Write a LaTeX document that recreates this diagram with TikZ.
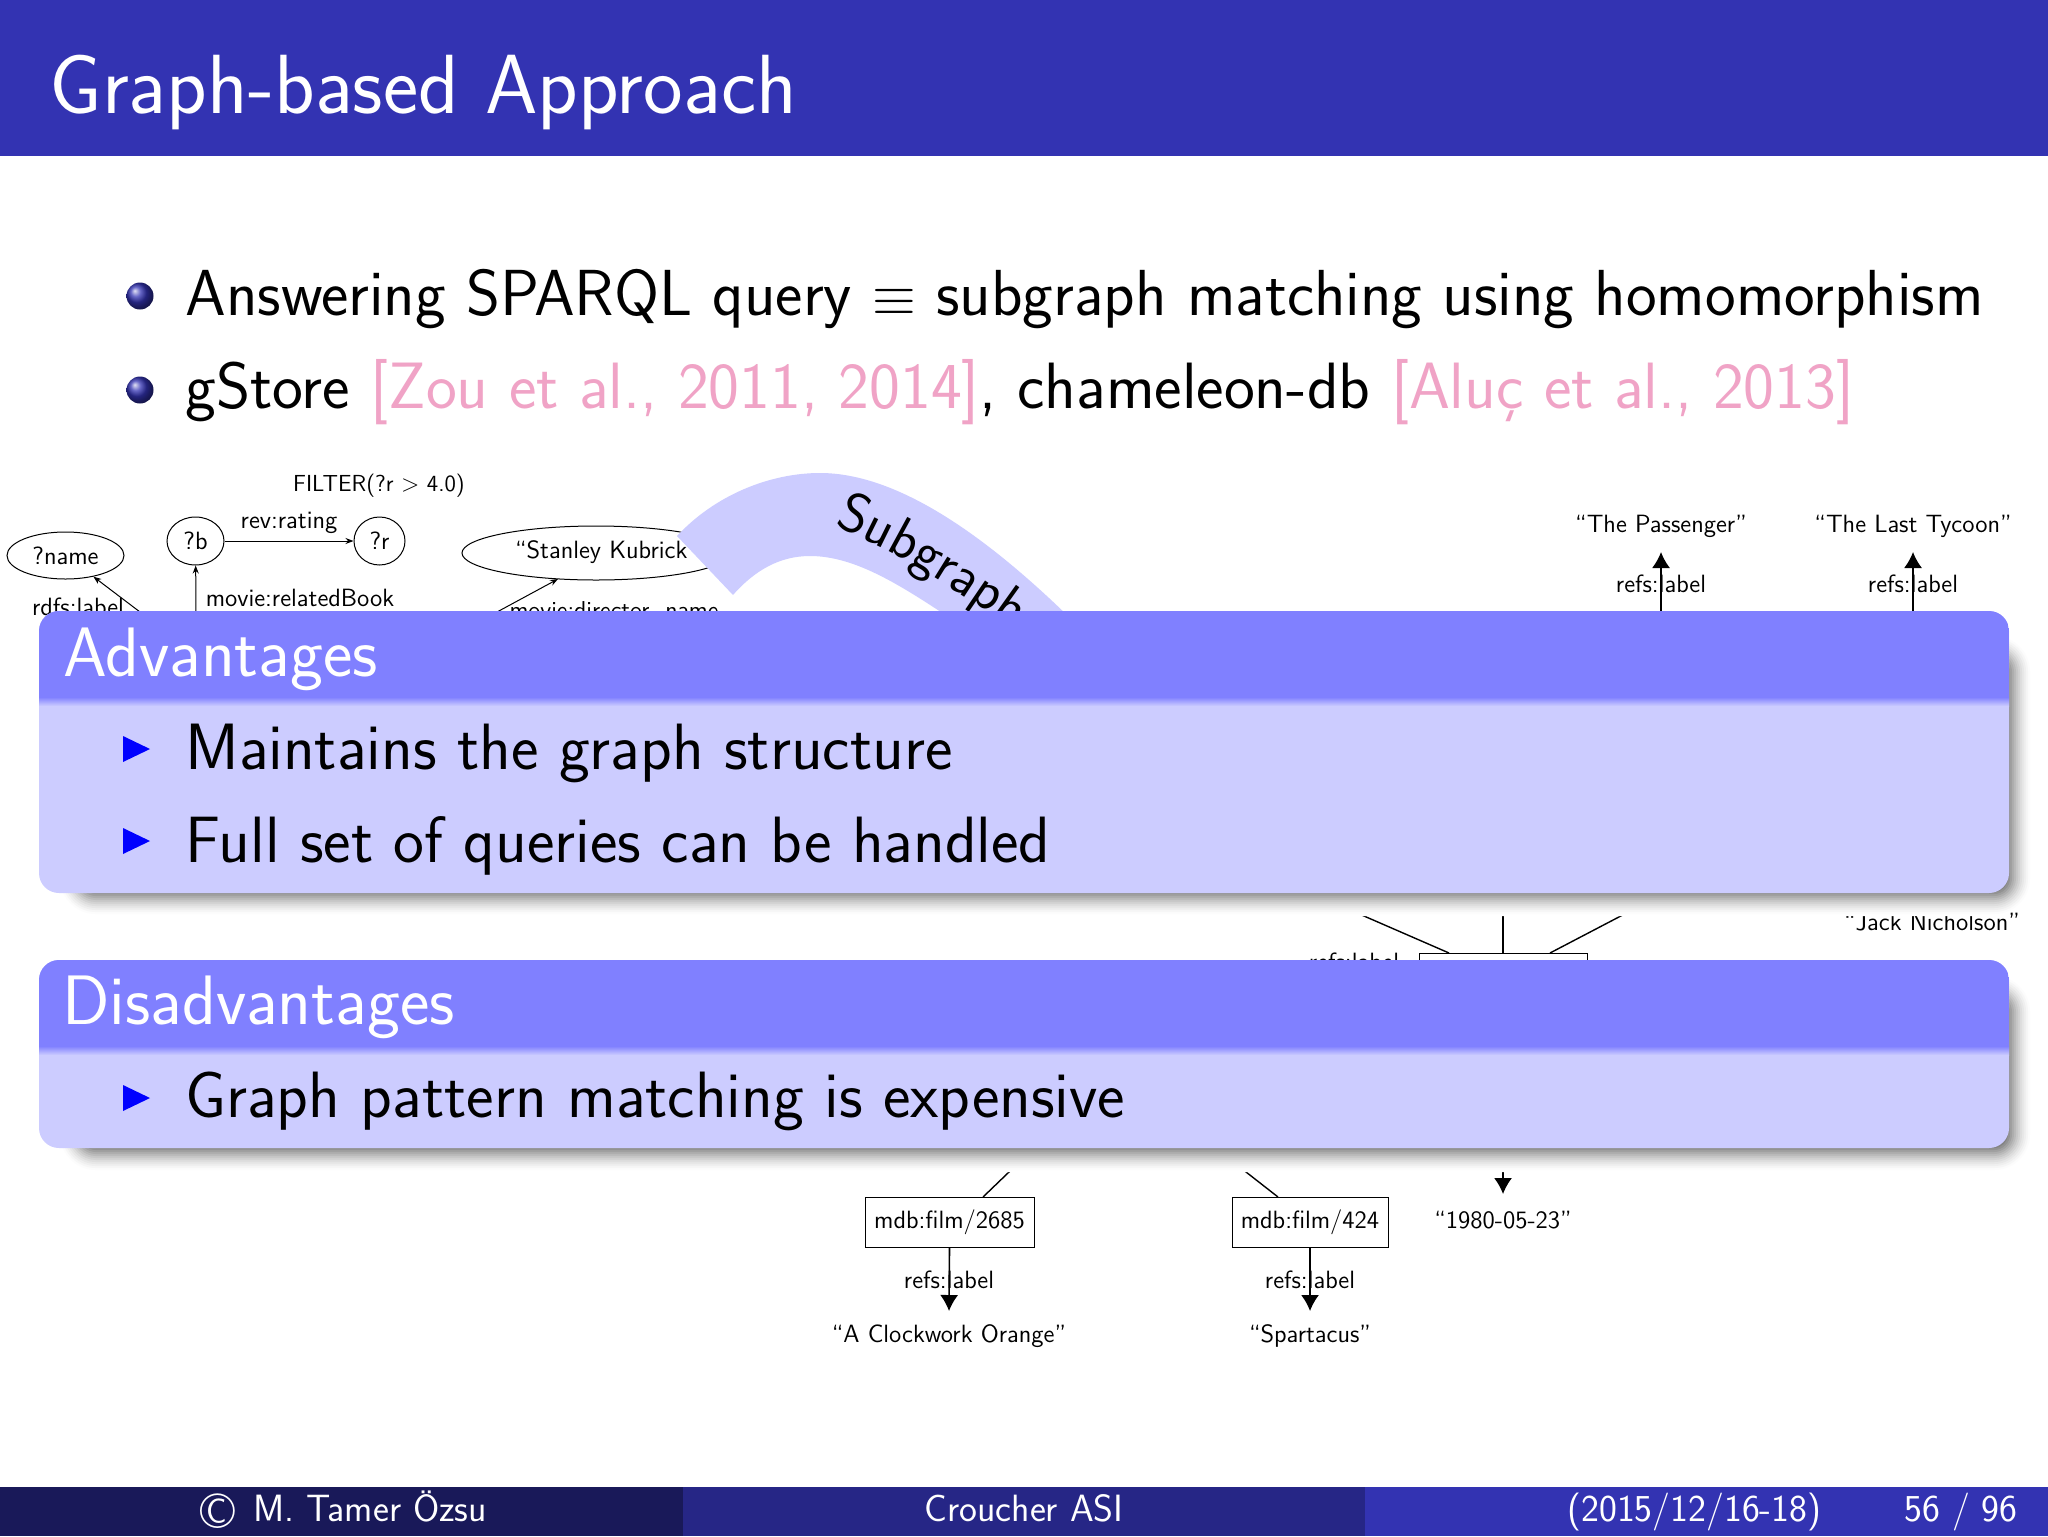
\documentclass[tikz,border=0pt]{standalone}
\usetikzlibrary{arrows.meta,shapes.geometric,decorations.text}
\definecolor{bartitle}{rgb}{0.2,0.2,0.7}
\definecolor{barmid}{rgb}{0.15,0.15,0.525}
\definecolor{bardark}{rgb}{0.1,0.1,0.35}
\definecolor{blockhead}{HTML}{8080FF}
\definecolor{blockbody}{HTML}{CCCCFF}
\definecolor{citepink}{HTML}{F0A3C6}
\newcommand{\szset}[1]{\fontsize{#1}{#1}\selectfont\sffamily}
\newcommand{\shadowbox}[4]{%
  \foreach \i in {13,...,0}{%
    \pgfmathsetmacro{\sv}{100-55*(1-\i/13)^1.5}%
    \fill[color=white!\sv!black,rounded corners={(12+\i*2)*0.5pt}]
      ({#1-\i*2},{#2-\i*2}) rectangle ({#3+\i*2},{#4+\i*2});
  }%
}
\tikzset{
  px/.style={x=0.5pt,y=-0.5pt},
  lab/.style={font=\szset{12.5},anchor=base,inner sep=0pt,text=black},
  body/.style={font=\szset{32.75},anchor=base west,inner sep=0pt,text=black},
  headtxt/.style={font=\szset{35},anchor=base west,inner sep=0pt,text=white},
  foot/.style={font=\szset{19},anchor=base,inner sep=0pt,text=white},
  thinarrow/.style={draw=black,line width=0.5pt,-{Stealth[length=4pt,width=3pt]}},
  bigarrow/.style={draw=black,line width=0.8pt,-{Latex[length=8pt,width=9pt]}},
  plainline/.style={draw=black,line width=0.7pt},
  qnode/.style={draw=black,line width=0.5pt,ellipse,inner sep=0pt,font=\szset{12.5}},
  filmbox/.style={draw=black,line width=0.5pt,rectangle,inner sep=0pt,font=\szset{12.5}},
  tri/.style={fill=blue},
}
\begin{document}
\begin{tikzpicture}[px]
\useasboundingbox (0,0) rectangle (2048,1536);
\fill[white] (0,0) rectangle (2048,1536);
% title bar
\fill[bartitle] (0,0) rectangle (2048,156);
\node[font=\szset{42},anchor=base west,inner sep=0pt,text=white] (title) at (49,113) {Graph-based Approach};
% bullets
\shade[ball color=bartitle] (140,296) circle (13.5);
\shade[ball color=bartitle] (140,390) circle (13.5);
\node[body,font=\szset{32.55}] (b1) at (185,315) {Answering SPARQL query \scalebox{1.13}{$\equiv$} subgraph matching using homomorphism};
\node[body] (b2) at (185,408) {gStore \textcolor{citepink}{[Zou et al., 2011, 2014]}, chameleon-db \textcolor{citepink}{[Alu\c{c} et al., 2013]}};
% query graph
\node[lab,font=\szset{11.6}] (filter) at (379,491) {FILTER(?r $>$ 4.0)};
\node[qnode,minimum width=58.5pt,minimum height=23.5pt] (name) at (65.5,555.5) {?name};
\node[qnode,minimum width=28.5pt,minimum height=24pt] (qb) at (195.5,541) {?b};
\node[qnode,minimum width=25.5pt,minimum height=24pt] (qr) at (379.5,541) {?r};
\node[lab] (revrating) at (289,528) {rev:rating};
\draw[thinarrow] (qb) -- (qr);
\node[lab] (related) at (300,606) {movie:relatedBook};
\coordinate (relstart) at (196,612);
\draw[thinarrow] (relstart) -- (qb);
\node[lab] (rdfs) at (78,615) {rdfs:label};
\coordinate (rdfstart) at (140,612);
\draw[thinarrow] (rdfstart) -- (name);
\node[qnode,minimum width=134pt,minimum height=27pt] (kubrick) at (596,553) {};
\node[lab] (kubtext) at (607,558) {``Stanley Kubrick''};
\node[lab,font=\szset{12.2}] (director) at (614,618) {movie:director\_name};
\coordinate (dirstart) at (497,612);
\coordinate (dirend) at (558,579);
\draw[thinarrow] (dirstart) -- (dirend);
% data graph upper right
\node[lab] (passenger) at (1661,532) {``The Passenger''};
\node[lab] (tycoon) at (1913,532) {``The Last Tycoon''};
\coordinate (ptip) at (1661,552);
\coordinate (ttip) at (1913,552);
\coordinate (pstart) at (1661,615);
\coordinate (tstart) at (1913,615);
\node[lab] (reflab1) at (1661,592) {refs:label};
\node[lab] (reflab2) at (1913,592) {refs:label};
\draw[bigarrow] (pstart) -- (ptip);
\draw[bigarrow] (tstart) -- (ttip);
% data graph middle
\node[lab] (jack) at (1932,930) {``Jack Nicholson''};
\node[filmbox,minimum width=84pt,minimum height=30pt,anchor=north] (film) at (1503,953) {};
\node[lab] (reflab3) at (1354,970) {refs:label};
\coordinate (l1) at (1318,896);
\coordinate (l1e) at (1449,953);
\coordinate (l2) at (1503,900);
\coordinate (l3) at (1659,896);
\coordinate (l3e) at (1550,953);
\draw[plainline] (l1) -- (l1e);
\draw[plainline] (l2) -- (film.north);
\draw[plainline] (l3) -- (l3e);
% data graph lower
\node[filmbox,minimum width=84.5pt,minimum height=25pt] (f2685) at (949.5,1222) {};
\node[filmbox,minimum width=78pt,minimum height=25pt] (f424) at (1310,1222) {};
\node[lab] (t2685) at (949.5,1228) {mdb:film/2685};
\node[lab] (t424) at (1310,1228) {mdb:film/424};
\node[lab] (date) at (1503,1228) {``1980-05-23''};
\node[lab] (orange) at (949,1342) {``A Clockwork Orange''};
\node[lab] (spartacus) at (1310,1342) {``Spartacus''};
\node[lab] (reflab4) at (949,1288) {refs:label};
\node[lab] (reflab5) at (1310,1288) {refs:label};
\coordinate (otip) at (949,1311);
\coordinate (stip) at (1310,1311);
\draw[bigarrow] (f2685.south) -- (otip);
\draw[bigarrow] (f424.south) -- (stip);
\coordinate (up1) at (1035,1147);
\coordinate (up1e) at (983,1197);
\coordinate (up2) at (1214,1147);
\coordinate (up2e) at (1278,1197);
\coordinate (up3) at (1503,1150);
\coordinate (up3e) at (1503,1194);
\draw[plainline] (up1) -- (up1e);
\draw[plainline] (up2) -- (up2e);
\draw[bigarrow] (up3) -- (up3e);
% curved band
\fill[blockbody] (677,536) .. controls (715,495) and (770,473) .. (820,473)
  .. controls (900,473) and (990,540) .. (1070,618) -- (950,618)
  .. controls (900,585) and (855,556) .. (810,556)
  .. controls (780,556) and (755,570) .. (733,595) -- cycle;
\path[decorate,decoration={text along path,text align=left,
   text={|\szset{28}|Subgraph}}]
   (834,526) .. controls (880,544) and (946,580) .. (1026,640);
% block 1
\shadowbox{84}{660}{2006}{890}
\fill[blockbody,rounded corners=10pt] (39,611) rectangle (2009,893);
\begin{scope}
\clip[rounded corners=10pt] (39,611) rectangle (2009,893);
\fill[blockhead] (39,611) rectangle (2009,697);
\shade[top color=blockhead,bottom color=blockbody] (39,697) rectangle (2009,706);
\end{scope}
\node[headtxt] (adv) at (63,676) {Advantages};
\fill[tri] (123,736) -- (150,749) -- (123,762) -- cycle;
\node[body] (a1) at (185,769) {Maintains the graph structure};
\fill[tri] (123,828) -- (150,841) -- (123,854) -- cycle;
\node[body] (a2) at (185,862) {Full set of queries can be handled};
% block 2
\shadowbox{84}{1000}{2006}{1146}
\fill[blockbody,rounded corners=10pt] (39,960) rectangle (2009,1148);
\begin{scope}
\clip[rounded corners=10pt] (39,960) rectangle (2009,1148);
\fill[blockhead] (39,960) rectangle (2009,1046);
\shade[top color=blockhead,bottom color=blockbody] (39,1046) rectangle (2009,1055);
\end{scope}
\node[headtxt] (dis) at (62,1024) {Disadvantages};
\fill[tri] (123,1085) -- (150,1098) -- (123,1111) -- cycle;
\node[body] (d1) at (185,1117) {Graph pattern matching is expensive};
% footer
\fill[bardark] (0,1487) rectangle (683,1536);
\fill[barmid] (683,1487) rectangle (1365,1536);
\fill[bartitle] (1365,1487) rectangle (2048,1536);
\node[font=\szset{25},anchor=base west,inner sep=0pt,text=white] (fcopy) at (200,1528) {\textcopyright};
\node[foot,anchor=base west] (fa) at (253,1521) {M. Tamer \"Ozsu};
\node[foot] (fb) at (1024,1521) {Croucher ASI};
\node[foot,anchor=base west] (fc) at (1567,1521) {(2015/12/16-18)};
\node[foot,anchor=base east] (fd) at (2018,1521) {56 / 96};
\end{tikzpicture}
\end{document}
